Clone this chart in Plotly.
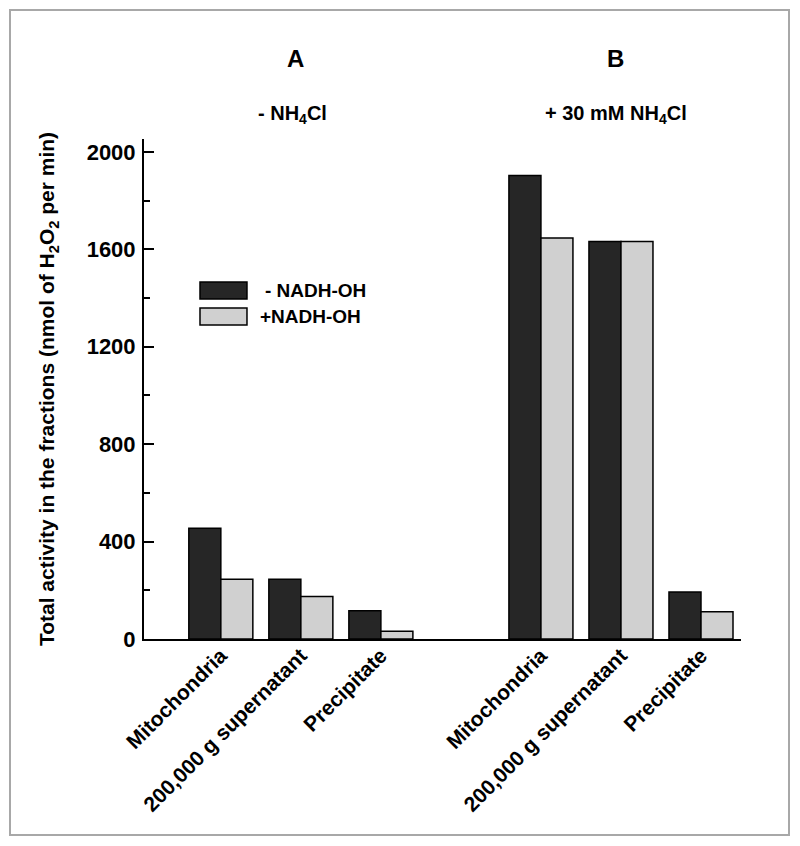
import plotly.graph_objects as go

# Data
positions = [0, 1, 2, 4, 5, 6]
categories = ["Mitochondria", "200,000 g supernatant", "Precipitate",
              "Mitochondria", "200,000 g supernatant", "Precipitate"]
minus_nadh = [455, 245, 116, 1903, 1632, 193]
plus_nadh = [245, 174, 32, 1646, 1632, 112]
series_names = ["- NADH-OH", "+NADH-OH"]
y_major = [0, 400, 800, 1200, 1600, 2000]
y_minor = [200, 600, 1000, 1400, 1800]

FONT = "Liberation Sans, Arial, sans-serif"
DARK = "#262626"
LIGHT = "#d0d0d0"

fig = go.Figure()
fig.add_trace(go.Bar(x=positions, y=minus_nadh, name=series_names[0],
                     marker=dict(color=DARK, line=dict(color="black", width=1.5)),
                     showlegend=False))
fig.add_trace(go.Bar(x=positions, y=plus_nadh, name=series_names[1],
                     marker=dict(color=LIGHT, line=dict(color="black", width=1.5)),
                     showlegend=False))

# page body has an 8px margin: figure starts at (8, 8)
fig.update_layout(
    width=784, height=830,
    margin=dict(l=136, r=51, t=131, b=199),
    paper_bgcolor="white", plot_bgcolor="white",
    barmode="group", bargap=0.2, bargroupgap=0,
    font=dict(family=FONT, color="black"),
)

fig.update_xaxes(
    range=[-0.96, 6.5], tickmode="array", tickvals=positions, ticktext=categories,
    tickangle=-45, ticks="", showgrid=False, zeroline=False,
    showline=True, linecolor="black", linewidth=2,
    ticklabelstandoff=-6,
    tickfont=dict(family=FONT, size=21, color="black", weight="bold"),
)
fig.update_yaxes(
    range=[0, 2053], tickmode="array", tickvals=y_major,
    ticks="inside", ticklen=10, tickwidth=1.5, tickcolor="black",
    minor=dict(tickmode="array", tickvals=y_minor,
               ticks="inside", ticklen=6, tickwidth=1.5, tickcolor="black", showgrid=False),
    showgrid=False, zeroline=False,
    showline=True, linecolor="black", linewidth=2,
    ticklabelstandoff=2,
    tickfont=dict(family=FONT, size=22, color="black", weight="bold"),
    title=dict(text="Total activity in the fractions (nmol of H<sub>2</sub>O<sub>2</sub> per min)",
               font=dict(family=FONT, size=21, color="black", weight="bold"), standoff=26),
)

# Panel labels
for txt, xp in [("A", 0.253), ("B", 0.789)]:
    fig.add_annotation(xref="paper", yref="paper", x=xp, y=1.162, showarrow=False,
                       text="<b>" + txt + "</b>", xanchor="center", yanchor="middle",
                       font=dict(family=FONT, size=24, color="black"))
fig.add_annotation(xref="paper", yref="paper", x=0.248, y=1.048, showarrow=False,
                   text="<b>- NH<sub>4</sub>Cl</b>", xanchor="center", yanchor="middle",
                   font=dict(family=FONT, size=20, color="black"))
fig.add_annotation(xref="paper", yref="paper", x=0.79, y=1.048, showarrow=False,
                   text="<b>+ 30 mM NH<sub>4</sub>Cl</b>", xanchor="center", yanchor="middle",
                   font=dict(family=FONT, size=20, color="black"))

# Custom legend (large swatches)
legend_rows = [(0.680, 0.714, DARK, series_names[0], 0.1993, 0.697),
               (0.628, 0.662, LIGHT, series_names[1], 0.191, 0.645)]
for y0, y1, col, name, tx, ty in legend_rows:
    fig.add_shape(type="rect", xref="paper", yref="paper", x0=0.0938, x1=0.1725,
                  y0=y0, y1=y1, fillcolor=col, line=dict(color="black", width=1.5))
    fig.add_annotation(xref="paper", yref="paper", x=tx, y=ty, showarrow=False,
                       text="<b>" + name + "</b>", xanchor="left", yanchor="middle",
                       font=dict(family=FONT, size=19, color="black"))

# Outer frame
fig.add_shape(type="rect", xref="paper", yref="paper",
              x0=(10 - 144) / 597, x1=(789 - 144) / 597,
              y0=(639 - 835) / 500, y1=(639 - 10) / 500,
              line=dict(color="#a8a8a8", width=2), fillcolor="rgba(0,0,0,0)", layer="below")

fig.write_html("out.html")
